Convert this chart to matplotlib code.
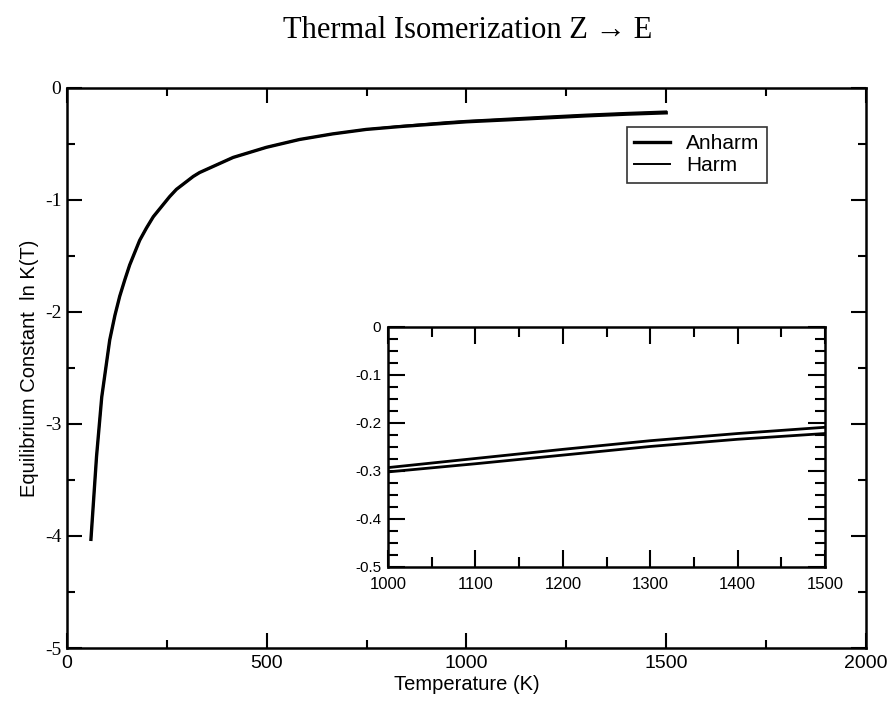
import numpy as np
import matplotlib
matplotlib.use("Agg")
import matplotlib.pyplot as plt
from matplotlib.ticker import MultipleLocator

plt.rcParams['font.family'] = ['Liberation Sans', 'DejaVu Sans']

# temperature grid (K) and ln K(T) for both treatments
temps = [60, 74, 87, 107, 120, 132, 145, 157, 182, 199, 216, 257, 274, 316,
         332, 416, 499, 582, 665, 749, 832, 949, 1000, 1100, 1200, 1250, 1300,
         1400, 1500]
ln_k_anharm = [-4.03, -3.29, -2.76, -2.25, -2.03, -1.86, -1.71, -1.58, -1.36,
               -1.25, -1.15, -0.97, -0.905, -0.79, -0.755, -0.62, -0.53, -0.46,
               -0.41, -0.37, -0.345, -0.315, -0.302, -0.285, -0.267, -0.258,
               -0.249, -0.234, -0.222]
ln_k_harm = [-4.03, -3.29, -2.76, -2.25, -2.03, -1.86, -1.71, -1.58, -1.36,
             -1.25, -1.15, -0.97, -0.905, -0.79, -0.755, -0.62, -0.53, -0.46,
             -0.41, -0.37, -0.34, -0.305, -0.293, -0.274, -0.255, -0.246,
             -0.237, -0.222, -0.209]

title = "Thermal Isomerization Z \u2192 E"
xlabel = "Temperature (K)"
ylabel = "Equilibrium Constant  ln K(T)"


def style_axes(ax, major, minor, width=1.8):
    for s in ax.spines.values():
        s.set_linewidth(width)
    ax.tick_params(which='both', direction='in', top=True, right=True,
                   width=1.5, color='black')
    ax.tick_params(which='major', length=major)
    ax.tick_params(which='minor', length=minor)


fig = plt.figure(figsize=(8.93, 7.01), dpi=100)
ax = fig.add_axes([0.075, 0.0756, 0.8947, 0.7989])

ax.plot(temps, ln_k_anharm, color='black', lw=2.4, label='Anharm',
        solid_joinstyle='round')
ax.plot(temps, ln_k_harm, color='black', lw=1.4, label='Harm',
        solid_joinstyle='round')

ax.set_xlim(0, 2000)
ax.set_ylim(-5, 0)
ax.xaxis.set_major_locator(MultipleLocator(500))
ax.xaxis.set_minor_locator(MultipleLocator(250))
ax.yaxis.set_major_locator(MultipleLocator(1))
ax.yaxis.set_minor_locator(MultipleLocator(0.5))
ax.yaxis.set_major_formatter(matplotlib.ticker.FuncFormatter(lambda v, p: "%d" % v))
style_axes(ax, 11, 6)
ax.tick_params(axis='x', labelsize=14, pad=5)
ax.tick_params(axis='y', labelsize=14, pad=4)
for lab in ax.get_yticklabels():
    lab.set_family(['Liberation Serif', 'DejaVu Serif'])

ax.set_xlabel(xlabel, fontsize=14.5, labelpad=2)
ax.set_ylabel(ylabel, fontsize=14.5, labelpad=4)

fig.text(0.524, 0.946, title, ha='center', va='baseline', fontsize=22,
         family=['Liberation Serif', 'DejaVu Serif'])

leg = ax.legend(loc='upper left', bbox_to_anchor=(627 / 893, 1 - 127 / 701),
                bbox_transform=fig.transFigure, fontsize=15, frameon=True,
                fancybox=False, borderaxespad=0, borderpad=0.35,
                handlelength=1.7, handletextpad=0.8, labelspacing=0.15)
leg.get_frame().set_edgecolor('black')
leg.get_frame().set_linewidth(1.2)

# zoomed view of the high temperature range
ins = fig.add_axes([0.4345, 0.1912, 0.4894, 0.3424])
ins.plot(temps, ln_k_anharm, color='black', lw=2.0)
ins.plot(temps, ln_k_harm, color='black', lw=2.0)
ins.set_xlim(1000, 1500)
ins.set_ylim(-0.5, 0)
ins.xaxis.set_major_locator(MultipleLocator(100))
ins.xaxis.set_minor_locator(MultipleLocator(50))
ins.yaxis.set_major_locator(MultipleLocator(0.1))
ins.yaxis.set_minor_locator(MultipleLocator(0.025))
ins.yaxis.set_major_formatter(matplotlib.ticker.FuncFormatter(
    lambda v, p: "0" if abs(v) < 1e-9 else ("%.1f" % v)))
style_axes(ins, 12, 7)
ins.tick_params(axis='x', labelsize=12, pad=7)
ins.tick_params(axis='y', labelsize=11, pad=5)

fig.savefig("out.png", dpi=100)
